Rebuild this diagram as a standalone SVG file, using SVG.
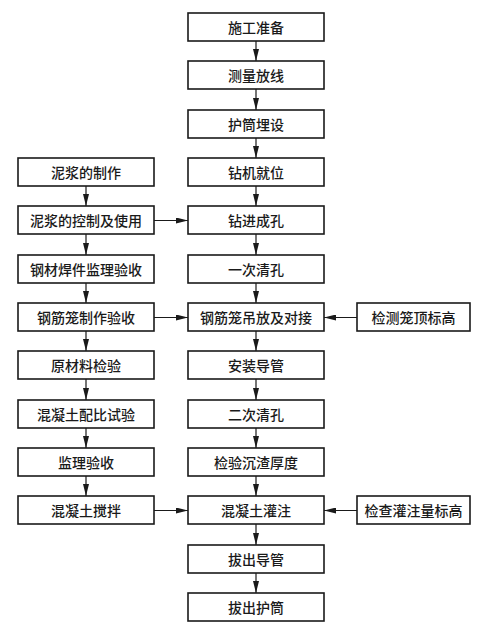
<svg xmlns="http://www.w3.org/2000/svg" width="490" height="634" viewBox="0 0 490 634">
<style>
.b{fill:#fff;stroke:#1a1a1a;stroke-width:1.6}
.t{font-family:"Noto Sans CJK SC",sans-serif;font-size:14px;font-weight:500;fill:#1a1a1a;text-anchor:middle;dominant-baseline:central}
.c{stroke:#1a1a1a;stroke-width:1.2;fill:none;marker-end:url(#ah)}
</style>
<defs>
<marker id="ah" viewBox="0 0 12 6" refX="12" refY="3" markerWidth="12" markerHeight="6" markerUnits="userSpaceOnUse" orient="auto">
<path d="M0,0 L12,3 L0,6 Z" fill="#1a1a1a"/>
</marker>
</defs>
<rect width="490" height="634" fill="#fff"/>
<g id="connectors">
<line class="c" x1="256" y1="41" x2="256" y2="61"/>
<line class="c" x1="256" y1="89" x2="256" y2="110"/>
<line class="c" x1="256" y1="138" x2="256" y2="158"/>
<line class="c" x1="256" y1="186" x2="256" y2="206"/>
<line class="c" x1="256" y1="234" x2="256" y2="255"/>
<line class="c" x1="256" y1="283" x2="256" y2="303"/>
<line class="c" x1="256" y1="331" x2="256" y2="351"/>
<line class="c" x1="256" y1="379" x2="256" y2="400"/>
<line class="c" x1="256" y1="428" x2="256" y2="448"/>
<line class="c" x1="256" y1="476" x2="256" y2="496"/>
<line class="c" x1="256" y1="524" x2="256" y2="545"/>
<line class="c" x1="256" y1="573" x2="256" y2="593"/>
<line class="c" x1="86" y1="186" x2="86" y2="206"/>
<line class="c" x1="86" y1="234" x2="86" y2="255"/>
<line class="c" x1="86" y1="283" x2="86" y2="303"/>
<line class="c" x1="86" y1="331" x2="86" y2="351"/>
<line class="c" x1="86" y1="379" x2="86" y2="400"/>
<line class="c" x1="86" y1="428" x2="86" y2="448"/>
<line class="c" x1="86" y1="476" x2="86" y2="496"/>
<line class="c" x1="154" y1="220.5" x2="188" y2="220.5"/>
<line class="c" x1="154" y1="317.5" x2="188" y2="317.5"/>
<line class="c" x1="154" y1="510.5" x2="188" y2="510.5"/>
<line class="c" x1="357" y1="317.5" x2="324" y2="317.5"/>
<line class="c" x1="357" y1="510.5" x2="324" y2="510.5"/>
</g>
<g id="n1"><rect class="b" x="188" y="13" width="136" height="28"/><text class="t" x="256" y="27">施工准备</text></g>
<g id="n2"><rect class="b" x="188" y="61" width="136" height="28"/><text class="t" x="256" y="75">测量放线</text></g>
<g id="n3"><rect class="b" x="188" y="110" width="136" height="28"/><text class="t" x="256" y="124">护筒埋设</text></g>
<g id="n4"><rect class="b" x="188" y="158" width="136" height="28"/><text class="t" x="256" y="172">钻机就位</text></g>
<g id="n5"><rect class="b" x="188" y="206" width="136" height="28"/><text class="t" x="256" y="220">钻进成孔</text></g>
<g id="n6"><rect class="b" x="188" y="255" width="136" height="28"/><text class="t" x="256" y="269">一次清孔</text></g>
<g id="n7"><rect class="b" x="188" y="303" width="136" height="28"/><text class="t" x="256" y="317">钢筋笼吊放及对接</text></g>
<g id="n8"><rect class="b" x="188" y="351" width="136" height="28"/><text class="t" x="256" y="365">安装导管</text></g>
<g id="n9"><rect class="b" x="188" y="400" width="136" height="28"/><text class="t" x="256" y="414">二次清孔</text></g>
<g id="n10"><rect class="b" x="188" y="448" width="136" height="28"/><text class="t" x="256" y="462">检验沉渣厚度</text></g>
<g id="n11"><rect class="b" x="188" y="496" width="136" height="28"/><text class="t" x="256" y="510">混凝土灌注</text></g>
<g id="n12"><rect class="b" x="188" y="545" width="136" height="28"/><text class="t" x="256" y="559">拔出导管</text></g>
<g id="n13"><rect class="b" x="188" y="593" width="136" height="28"/><text class="t" x="256" y="607">拔出护筒</text></g>
<g id="l1"><rect class="b" x="18" y="158" width="136" height="28"/><text class="t" x="86" y="172">泥浆的制作</text></g>
<g id="l2"><rect class="b" x="18" y="206" width="136" height="28"/><text class="t" x="86" y="220">泥浆的控制及使用</text></g>
<g id="l3"><rect class="b" x="18" y="255" width="136" height="28"/><text class="t" x="86" y="269">钢材焊件监理验收</text></g>
<g id="l4"><rect class="b" x="18" y="303" width="136" height="28"/><text class="t" x="86" y="317">钢筋笼制作验收</text></g>
<g id="l5"><rect class="b" x="18" y="351" width="136" height="28"/><text class="t" x="86" y="365">原材料检验</text></g>
<g id="l6"><rect class="b" x="18" y="400" width="136" height="28"/><text class="t" x="86" y="414">混凝土配比试验</text></g>
<g id="l7"><rect class="b" x="18" y="448" width="136" height="28"/><text class="t" x="86" y="462">监理验收</text></g>
<g id="l8"><rect class="b" x="18" y="496" width="136" height="28"/><text class="t" x="86" y="510">混凝土搅拌</text></g>
<g id="r1"><rect class="b" x="357" y="303" width="113" height="28"/><text class="t" x="413.5" y="317">检测笼顶标高</text></g>
<g id="r2"><rect class="b" x="357" y="496" width="113" height="28"/><text class="t" x="413.5" y="510">检查灌注量标高</text></g>
</svg>
